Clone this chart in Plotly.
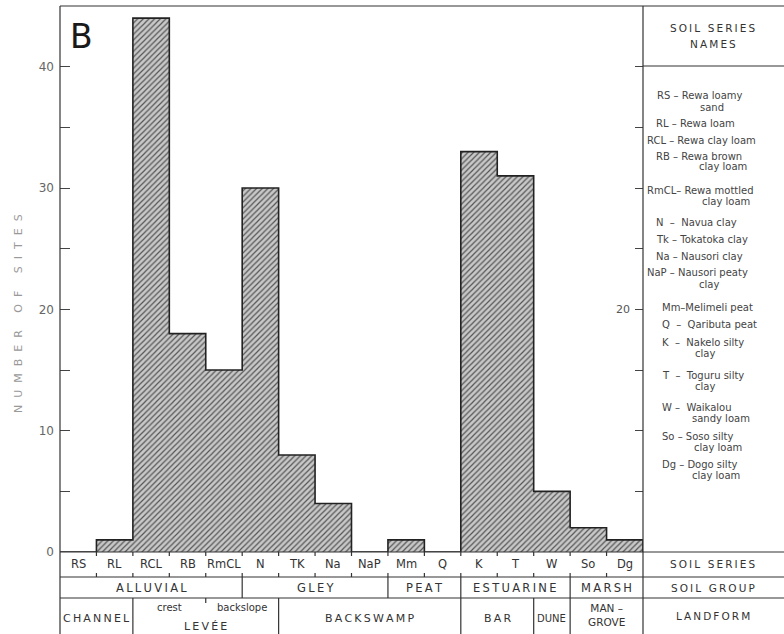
import plotly.graph_objects as go

# ---------------- data ----------------
series = ["RS", "RL", "RCL", "RB", "RmCL", "N", "TK", "Na", "NaP", "Mm", "Q", "K", "T", "W", "So", "Dg"]
sites = [0, 1, 44, 18, 15, 30, 8, 4, 0, 1, 0, 33, 31, 5, 2, 1]

y_ticks = [0, 5, 10, 15, 20, 25, 30, 35, 40]
y_tick_labels = ["0", "", "10", "", "20", "", "30", "", "40"]
right_ticks = [5, 10, 15, 20, 25, 30, 35, 40]
right_label_value = 20

# (label, first series index, last series index)
soil_groups = [("ALLUVIAL", 0, 4), ("GLEY", 5, 8), ("PEAT", 9, 10), ("ESTUARINE", 11, 13), ("MARSH", 14, 15)]
landforms = [("CHANNEL", 0, 1), ("LEVÉE", 2, 5), ("BACKSWAMP", 6, 10), ("BAR", 11, 12), ("DUNE", 13, 13), ("MAN –<br>GROVE", 14, 15)]
levee_parts = [("crest", 2, 3), ("backslope", 4, 5)]

name_lines = [
    "RS – Rewa loamy", "sand",
    "RL – Rewa loam",
    "RCL – Rewa clay loam",
    "RB – Rewa brown", "clay loam",
    "RmCL– Rewa mottled", "clay loam",
    "N  –  Navua clay",
    "Tk – Tokatoka clay",
    "Na – Nausori clay",
    "NaP – Nausori peaty", "clay",
    "Mm–Melimeli peat",
    "Q  –  Qaributa peat",
    "K  –  Nakelo silty", "clay",
    "T  –  Toguru silty", "clay",
    "W –  Waikalou", "sandy loam",
    "So – Soso silty", "clay loam",
    "Dg – Dogo silty", "clay loam",
]

# ---------------- layout geometry (page pixels) ----------------
PAGE_W, PAGE_H = 784, 634
L, R, T, B = 60, 643, 6, 552
ROW1, ROW2 = 577, 598
LINE = "#333333"
TXT = "#333333"
FONT = "DejaVu Sans"

# left x / centre-y pixel positions of the legend lines
name_pos = [
    (655, 96), (698, 107), (654, 123), (645, 140), (654, 156), (697, 167),
    (645, 190), (700, 202), (654, 222), (654, 239), (654, 256), (645, 272),
    (697, 284), (660, 307), (660, 325), (660, 342), (693, 353), (660, 375),
    (693, 386), (660, 407), (690, 418), (660, 436), (692, 447), (660, 464),
    (690, 475),
]


def px(x):
    return (x - L) / (R - L)


def py(y):
    return (B - y) / (B - T)


def spaced(s, sep="\u2009"):
    return sep.join(s)


fig = go.Figure()

fig.add_trace(go.Bar(
    x=list(range(len(series))), y=sites, width=1,
    marker=dict(color="#c8c8c8", line=dict(width=0),
                pattern=dict(shape="/", fgcolor="#555555", bgcolor="#c8c8c8", size=4, solidity=0.3)),
    showlegend=False, hoverinfo="skip",
))

# step outline of the histogram
xs = [i - 0.5 for i in range(len(series))] + [len(series) - 0.5, len(series) - 0.5]
ys = sites + [sites[-1], 0]
fig.add_trace(go.Scatter(x=xs, y=ys, mode="lines", line=dict(shape="hv", color="#222222", width=1.6),
                         showlegend=False, hoverinfo="skip"))
fig.add_trace(go.Scatter(x=[0], y=[0], yaxis="y2", mode="markers", marker=dict(opacity=0),
                         showlegend=False, hoverinfo="skip"))

shapes = []


def hline(y, x0, x1):
    shapes.append(dict(type="line", xref="paper", yref="paper", x0=px(x0), x1=px(x1), y0=py(y), y1=py(y),
                       line=dict(color=LINE, width=1.2)))


def vline_data(xd, y0, y1):
    shapes.append(dict(type="line", xref="x", yref="paper", x0=xd, x1=xd, y0=py(y0), y1=py(y1),
                       line=dict(color=LINE, width=1.2)))


def vline_px(x, y0, y1):
    shapes.append(dict(type="line", xref="paper", yref="paper", x0=px(x), x1=px(x), y0=py(y0), y1=py(y1),
                       line=dict(color=LINE, width=1.2)))


hline(T, L, PAGE_W)
hline(B, L, PAGE_W)
hline(ROW1, L, PAGE_W)
hline(ROW2, L, PAGE_W)
hline(66, R, PAGE_W)
vline_px(L, T, PAGE_H)
vline_px(R, T, PAGE_H)

# small ticks at series boundaries in soil-series row
for i in range(len(series) - 1):
    vline_data(i + 0.5, B, B + 4)
    vline_data(i + 0.5, ROW1 - 4, ROW1)

annotations = []


def ann(text, x, y, size=11, xref="paper", xanchor="center", color=TXT, **kw):
    annotations.append(dict(text=text, x=x, y=y, xref=xref, yref="paper", xanchor=xanchor, yanchor="middle",
                            showarrow=False, font=dict(family=FONT, size=size, color=color), **kw))


# soil series row
for i, s in enumerate(series):
    ann(s, i, py(564), size=11.5, xref="x")

# soil group row
for k, (lab, a, b) in enumerate(soil_groups):
    ann(spaced(lab), (a + b) / 2, py((ROW1 + ROW2) / 2), size=11.5, xref="x")
    if k < len(soil_groups) - 1:
        vline_data(b + 0.5, ROW1, ROW2)

# landform row
for k, (lab, a, b) in enumerate(landforms):
    if "<br>" in lab:
        ann(lab, (a + b) / 2, py(615), size=10.5, xref="x")
    elif a == b:
        ann(lab, (a + b) / 2, py(618), size=10, xref="x")
    else:
        yy = 626 if lab == "LEVÉE" else 618
        ann(spaced(lab), (a + b) / 2, py(yy), size=11, xref="x")
    if k < len(landforms) - 1:
        vline_data(b + 0.5, ROW2, PAGE_H)
for lab, a, b in levee_parts:
    ann(lab, (a + b) / 2, py(607), size=10, xref="x")
vline_data(levee_parts[0][2] + 0.5, ROW2, ROW2 + 5)

# right axis label
ann(str(right_label_value), px(632), py(B - right_label_value * (B - T) / 45), size=11, xanchor="right",
    color="#555555")

# right panel
CX = (R + PAGE_W) / 2 - 0.5
ann(spaced("SOIL SERIES"), px(CX), py(28), size=10.5)
ann(spaced("NAMES"), px(CX), py(44), size=10.5)
ann(spaced("SOIL SERIES"), px(CX), py(564), size=10.5)
ann(spaced("SOIL GROUP"), px(CX), py(588), size=10.5)
ann(spaced("LANDFORM"), px(CX), py(616), size=10.5)
for txt, (xp, yp) in zip(name_lines, name_pos):
    ann(txt, px(xp), py(yp), size=10, xanchor="left", color="#444444")

# panel letter and axis title
ann("B", px(81), py(36), size=33, color="#1a1a1a")
nb = "\u00a0"
title = (nb * 5).join((nb * 2).join(w) for w in ["NUMBER", "OF", "SITES"])
ann(title, px(18), py(314), size=11, color="#999999", textangle=-90)

fig.update_layout(
    template="none",
    width=PAGE_W, height=PAGE_H,
    margin=dict(l=L, r=PAGE_W - R, t=T, b=PAGE_H - B),
    paper_bgcolor="white", plot_bgcolor="white",
    bargap=0,
    xaxis=dict(range=[-0.5, len(series) - 0.5], showticklabels=False, ticks="", showgrid=False,
               zeroline=False, showline=False),
    yaxis=dict(range=[0, 45], tickvals=y_ticks, ticktext=y_tick_labels, ticks="inside", ticklen=10,
               tickwidth=1.2, tickcolor="#444", showline=False, showgrid=False, zeroline=False,
               ticklabelstandoff=5, tickfont=dict(family=FONT, size=12, color="#666666")),
    yaxis2=dict(range=[0, 45], overlaying="y", side="right", tickvals=right_ticks, showticklabels=False,
                ticks="inside", ticklen=8, tickwidth=1.2, tickcolor="#444", showline=False, showgrid=False,
                zeroline=False),
    shapes=shapes,
    annotations=annotations,
)

fig.write_html("out.html", config={"displayModeBar": False},
               post_script="document.body.style.margin='0px';document.body.style.overflow='hidden';")
